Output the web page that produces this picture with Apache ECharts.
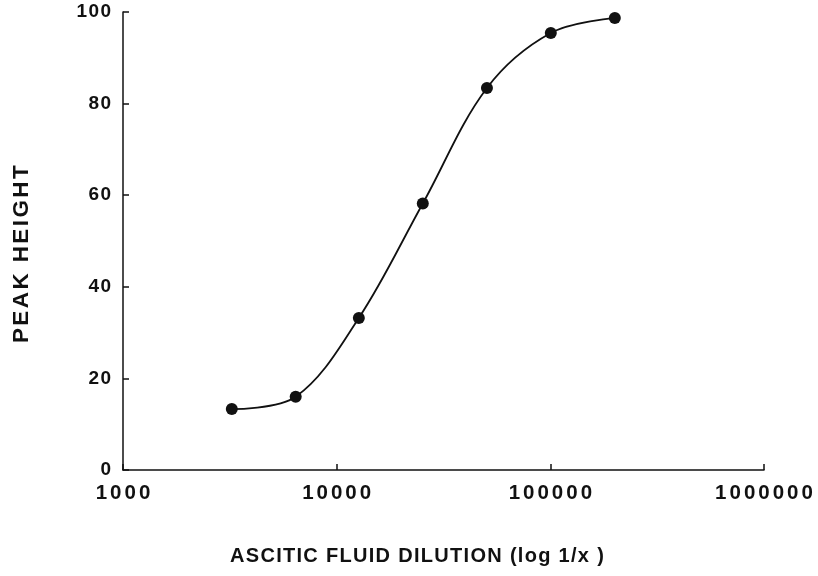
<!DOCTYPE html>
<html>
<head>
<meta charset="utf-8">
<script src="https://cdn.jsdelivr.net/npm/echarts@6/dist/echarts.min.js"></script>
<style>
html,body{margin:0;padding:0;background:#fff;}
#chart{width:818px;height:576px;}
</style>
</head>
<body>
<div id="chart"></div>
<script>
var dilutions = [3230, 6430, 12700, 25300, 50500, 100500, 200400];
var peakHeights = [13.3, 16.0, 33.2, 58.2, 83.4, 95.4, 98.7];
var xTickValues = [1000, 10000, 100000, 1000000];
var yTickValues = [0, 20, 40, 60, 80, 100];
var xTitle = 'ASCITIC FLUID DILUTION (log 1/x )';
var yTitle = 'PEAK HEIGHT';

// typewriter-like letter tracking of the original print, keyed by font size
(function () {
  var spacingBySize = { '19': 1.4, '20.5': 3.0, '20': 1.3, '22.5': 2.4 };
  var proto = window.CanvasRenderingContext2D && CanvasRenderingContext2D.prototype;
  if (!proto || !('letterSpacing' in proto)) return;
  var orig = proto.fillText;
  proto.fillText = function (t, x, y, w) {
    var m = /([\d.]+)px/.exec(this.font || '');
    var s = m && spacingBySize[m[1]];
    this.letterSpacing = s ? s + 'px' : '0px';
    return w === undefined ? orig.call(this, t, x, y) : orig.call(this, t, x, y, w);
  };
})();

var chart = echarts.init(document.getElementById('chart'));
var fontFam = '"Liberation Sans", Arial, sans-serif';
var pts = dilutions.map(function (d, i) { return [d, peakHeights[i]]; });

chart.setOption({
  animation: false,
  backgroundColor: '#fff',
  grid: { left: 123, right: 54, top: 12, bottom: 106, containLabel: false },
  graphic: [
    {
      type: 'text', x: 230, y: 556,
      style: { text: xTitle, fill: '#111', font: 'bold 20px ' + fontFam, align: 'left', verticalAlign: 'middle' }
    },
    {
      type: 'text', x: 22, y: 253, rotation: Math.PI / 2,
      style: { text: yTitle, fill: '#111', font: 'bold 22.5px ' + fontFam, align: 'center', verticalAlign: 'middle' }
    }
  ],
  xAxis: {
    type: 'log',
    logBase: 10,
    min: xTickValues[0],
    max: xTickValues[xTickValues.length - 1],
    axisLine: { lineStyle: { color: '#111', width: 1.5 } },
    axisTick: { inside: true, length: 6, lineStyle: { color: '#111', width: 1.5 } },
    minorTick: { show: false },
    splitLine: { show: false },
    axisLabel: {
      color: '#111', fontSize: 20.5, fontWeight: 'bold', fontFamily: fontFam, margin: 13,
      padding: [0, 0, 0, 3],
      formatter: function (v) { return String(Math.round(v)); }
    }
  },
  yAxis: {
    type: 'value',
    min: yTickValues[0],
    max: yTickValues[yTickValues.length - 1],
    interval: 20,
    axisLine: { show: true, lineStyle: { color: '#111', width: 1.5 } },
    axisTick: { show: true, inside: true, length: 6, lineStyle: { color: '#111', width: 1.5 } },
    splitLine: { show: false },
    axisLabel: { color: '#111', fontSize: 19, fontWeight: 'bold', fontFamily: fontFam, margin: 10.5 }
  },
  series: [{
    type: 'line',
    data: pts,
    smooth: 0.35,
    symbol: 'circle',
    symbolSize: 12,
    itemStyle: { color: '#111' },
    lineStyle: { color: '#111', width: 1.8 }
  }]
});
</script>
</body>
</html>
